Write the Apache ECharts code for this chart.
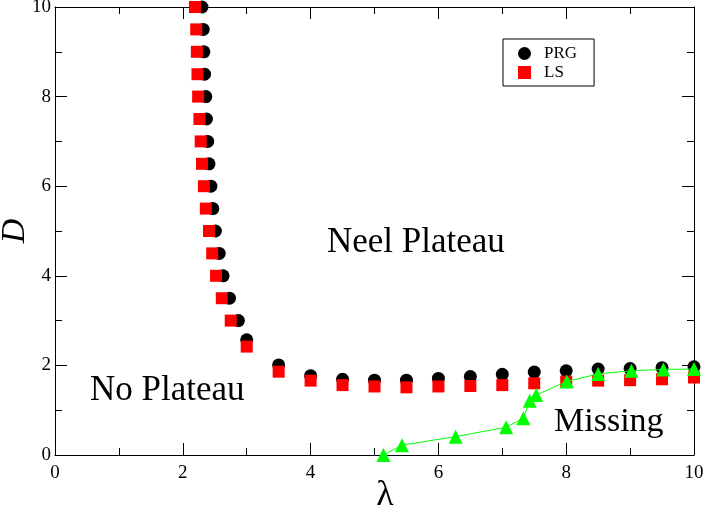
<!DOCTYPE html>
<html><head><meta charset="utf-8">
<script src="https://cdn.jsdelivr.net/npm/echarts@6/dist/echarts.min.js"></script>
<style>html,body{margin:0;padding:0;background:#fff}#c{width:706px;height:509px}</style>
</head><body><div id="c"></div>
<script>
const prgLambda = [2.30,2.32,2.33,2.34,2.36,2.37,2.39,2.41,2.44,2.47,2.51,2.57,2.63,2.73,2.87,3.0,3.5,4.0,4.5,5.0,5.5,6.0,6.5,7.0,7.5,8.0,8.5,9.0,9.5,10.0];
const prgD = [10,9.5,9,8.5,8,7.5,7,6.5,6,5.5,5,4.5,4,3.5,3,2.57,2.01,1.77,1.69,1.67,1.67,1.71,1.75,1.80,1.85,1.88,1.92,1.93,1.95,1.97];
const lsLambda = [2.19,2.21,2.22,2.23,2.24,2.26,2.28,2.30,2.33,2.36,2.41,2.46,2.52,2.61,2.75,3.0,3.5,4.0,4.5,5.0,5.5,6.0,6.5,7.0,7.5,8.0,8.5,9.0,9.5,10.0];
const lsD = [10,9.5,9,8.5,8,7.5,7,6.5,6,5.5,5,4.5,4,3.5,3,2.42,1.86,1.66,1.56,1.53,1.51,1.53,1.54,1.56,1.60,1.64,1.66,1.67,1.69,1.73];
const missLambda = [5.14,5.43,6.27,7.06,7.33,7.43,7.53,8.01,8.50,9.02,9.52,10.0];
const missD = [0,0.22,0.41,0.62,0.82,1.21,1.34,1.64,1.81,1.88,1.91,1.92];
const xTicks = [0,2,4,6,8,10];
const yTicks = [0,2,4,6,8,10];

const zip = (a,b)=>a.map((v,i)=>[v,b[i]]);
const fam = 'Liberation Serif';
const chart = echarts.init(document.getElementById('c'));
function axisBase(showLabel, pos, ticks){
  return {
    type:'value', min:ticks[0], max:ticks[ticks.length-1], interval:ticks[1]-ticks[0], position:pos,
    axisLine:{show:true, onZero:false, lineStyle:{color:'#000', width:1}},
    axisTick:{show:true, inside:true, length:12, lineStyle:{color:'#000'}},
    minorTick:{show:true, splitNumber:2, length:7, lineStyle:{color:'#000'}},
    splitLine:{show:false},
    axisLabel:{show:showLabel, color:'#000', fontFamily:fam, fontSize:19}
  };
}
const xb = axisBase(true,'bottom',xTicks);
xb.axisLabel.margin = 9;
const xt = axisBase(false,'top',xTicks);
const yl = axisBase(true,'left',yTicks);
yl.axisLabel.margin = 4;
const yr = axisBase(false,'right',yTicks);

chart.setOption({
  animation:false,
  textStyle:{fontFamily:fam},
  grid:{left:55, right:12, top:7, bottom:54, show:false, containLabel:false, outerBoundsMode:'none'},
  xAxis:[xb, xt],
  yAxis:[yl, yr],
  legend:{
    data:['PRG','LS'], orient:'vertical', left:503, top:39,
    padding:[6,17,5,15], itemGap:2, itemWidth:13, itemHeight:13,
    borderColor:'#000', borderWidth:1, borderRadius:0, backgroundColor:'#fff',
    textStyle:{fontFamily:fam, fontSize:17, color:'#000', padding:[0,0,0,8], lineHeight:13}
  },
  series:[
    {name:'PRG', type:'scatter', symbol:'circle', symbolSize:13, itemStyle:{color:'#000', opacity:1}, data:zip(prgLambda,prgD), z:2},
    {name:'LS', type:'scatter', symbol:'rect', symbolSize:12, itemStyle:{color:'#ff0000', opacity:1}, data:zip(lsLambda,lsD), z:3},
    {name:'Missing', type:'line', symbol:'triangle', symbolSize:14, showSymbol:true,
     itemStyle:{color:'#00ff00', opacity:1}, lineStyle:{color:'#00ff00', width:1}, data:zip(missLambda,missD), z:4}
  ],
  graphic:[
    {type:'text', x:327, y:243, style:{text:'Neel Plateau', fontFamily:fam, fontSize:35, fill:'#000', verticalAlign:'middle'}},
    {type:'text', x:90, y:391, style:{text:'No Plateau', fontFamily:fam, fontSize:35, fill:'#000', verticalAlign:'middle'}},
    {type:'text', x:554, y:422, style:{text:'Missing', fontFamily:fam, fontSize:34, fill:'#000', verticalAlign:'middle'}},
    {type:'text', x:385, y:496, style:{text:'λ', fontFamily:fam, fontSize:36, fill:'#000', align:'center', verticalAlign:'middle'}},
    {type:'text', x:15, y:231, rotation:Math.PI/2, style:{text:'D', fontFamily:fam, fontStyle:'italic', fontSize:34, fill:'#000', align:'center', verticalAlign:'middle'}}
  ]
});
</script></body></html>
